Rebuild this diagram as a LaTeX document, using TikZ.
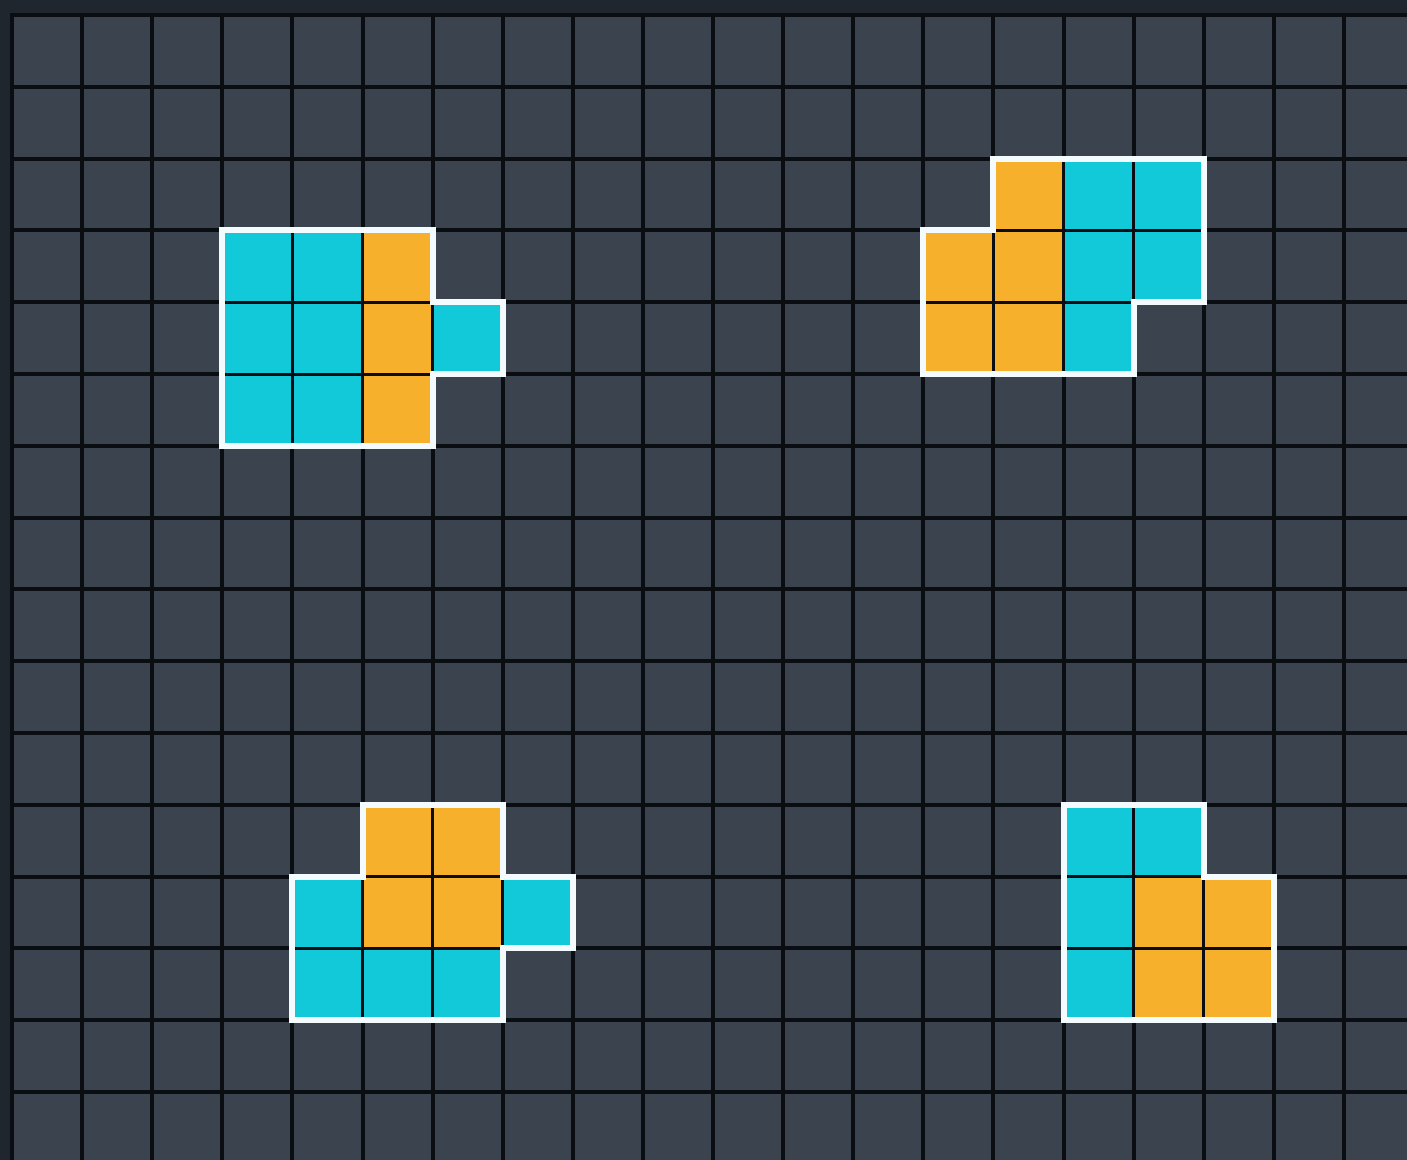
\documentclass[tikz,border=0pt]{standalone}
\usepackage{tikz}
\definecolor{boardbg}{HTML}{1F262D}
\definecolor{cellgray}{HTML}{3B444E}
\definecolor{gridblack}{HTML}{0A0D12}
\definecolor{tilecyan}{HTML}{12C9DA}
\definecolor{tileorange}{HTML}{F6B02B}
\definecolor{rimwhite}{HTML}{F4FBFF}
\tikzset{
  gridline/.style={gridblack, line width=2pt, line cap=rect},
  cyantile/.style={fill=tilecyan, draw=gridblack, line width=1.5pt},
  orangetile/.style={fill=tileorange, draw=gridblack, line width=1.5pt},
  rim/.style={rimwhite, line width=3pt, line join=miter},
}

\begin{document}
\begin{tikzpicture}[x=35.05pt, y=-35.9pt]
    % Frame
    \useasboundingbox (-0.1712,-0.2089) rectangle (19.9,15.947);
    \fill[boardbg] (-0.1712,-0.2089) rectangle (19.9,15.947);
    \fill[cellgray] (0,0) rectangle (19.9,15.947);

    % Grid
    \foreach \c in {0,...,19} \draw[gridline] (\c,0) -- (\c,15.947);
    \foreach \r in {0,...,15} \draw[gridline] (0,\r) -- (19.9,\r);

    % Cyan tiles
    \foreach \c/\r in {3/3,4/3,3/4,4/4,3/5,4/5,6/4,
                       15/2,16/2,15/3,16/3,15/4,
                       4/12,7/12,4/13,5/13,6/13,
                       15/11,16/11,15/12,15/13}
        \draw[cyantile] (\c,\r) rectangle ++(1,1);

    % Orange tiles
    \foreach \c/\r in {5/3,5/4,5/5,
                       14/2,13/3,14/3,13/4,14/4,
                       5/11,6/11,5/12,6/12,
                       16/12,17/12,16/13,17/13}
        \draw[orangetile] (\c,\r) rectangle ++(1,1);

    % White outlines
    \draw[rim] (3,3) -- (6,3) -- (6,4) -- (7,4) -- (7,5) -- (6,5) -- (6,6) -- (3,6) -- cycle;
    \draw[rim] (14,2) -- (17,2) -- (17,4) -- (16,4) -- (16,5) -- (13,5) -- (13,3) -- (14,3) -- cycle;
    \draw[rim] (5,11) -- (7,11) -- (7,12) -- (8,12) -- (8,13) -- (7,13) -- (7,14) -- (4,14) -- (4,12) -- (5,12) -- cycle;
    \draw[rim] (15,11) -- (17,11) -- (17,12) -- (18,12) -- (18,14) -- (15,14) -- cycle;
\end{tikzpicture}
\end{document}
